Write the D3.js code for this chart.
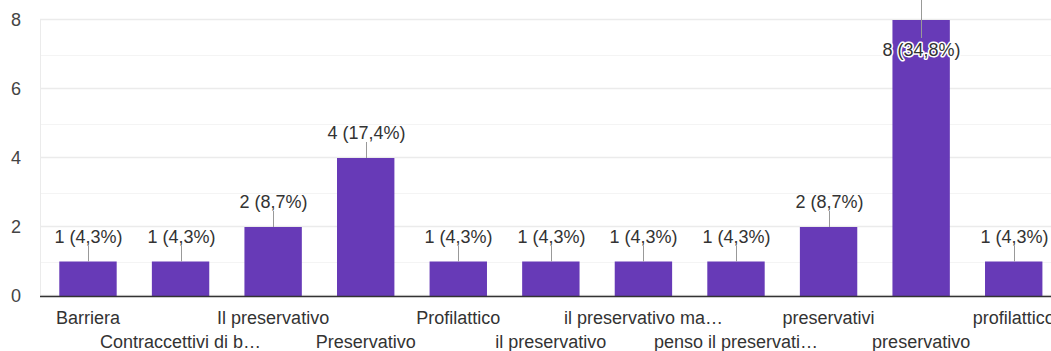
<!DOCTYPE html>
<html><head><meta charset="utf-8">
<script src="https://cdn.jsdelivr.net/npm/d3@7"></script>
<style>html,body{margin:0;padding:0;background:#fff;overflow:hidden}</style>
</head><body>
<svg id="c" width="1051" height="351"></svg>
<script>
const categories = ["Barriera","Contraccettivi di b…","Il preservativo","Preservativo","Profilattico","il preservativo","il preservativo ma…","penso il preservati…","preservativi","preservativo","profilattico"];
const values = [1,1,2,4,1,1,1,1,2,8,1];
const labels = ["1 (4,3%)","1 (4,3%)","2 (8,7%)","4 (17,4%)","1 (4,3%)","1 (4,3%)","1 (4,3%)","1 (4,3%)","2 (8,7%)","8 (34,8%)","1 (4,3%)"];
const yTicks = [0,2,4,6,8];
const yMinor = [1,3,5,7];

(function () {
const svg = d3.select("#c");
const font = "'Liberation Sans', Arial, sans-serif";
const left = 40, plotLeft = 41.7, plotRight = 1060, plotTop = 20, plotBottom = 296;
const x = d3.scaleBand().domain(categories).range([plotLeft, plotRight]).paddingInner(0.38).paddingOuter(0.19);
const y = d3.scaleLinear().domain([0, 8]).range([plotBottom, plotTop]);

// minor gridlines
svg.append("g").selectAll("line").data(yMinor).join("line")
  .attr("x1", left).attr("x2", 1051)
  .attr("y1", d => Math.round(y(d)) + 0.5).attr("y2", d => Math.round(y(d)) + 0.5)
  .attr("stroke", "#f4f4f4").attr("stroke-width", 1);
// major gridlines
svg.append("g").selectAll("line").data(yTicks).join("line")
  .attr("x1", left).attr("x2", 1051)
  .attr("y1", d => Math.round(y(d)) - 0.5).attr("y2", d => Math.round(y(d)) - 0.5)
  .attr("stroke", "#ebebeb").attr("stroke-width", 1.5);
// left vertical line
svg.append("line").attr("x1", left + 0.5).attr("x2", left + 0.5)
  .attr("y1", y(8) - 1).attr("y2", plotBottom).attr("stroke", "#ebebeb");

// y tick labels
svg.append("g").selectAll("text").data(yTicks).join("text")
  .attr("x", 21).attr("y", d => y(d) + 6)
  .attr("text-anchor", "end").attr("font-family", font).attr("font-size", 18)
  .attr("fill", "#444").text(d => d);

// bars
svg.append("g").selectAll("rect").data(values).join("rect")
  .attr("x", (d, i) => x(categories[i])).attr("width", x.bandwidth())
  .attr("y", d => y(d)).attr("height", d => y(0) - y(d))
  .attr("fill", "#673ab7");

// baseline
svg.append("line").attr("x1", left).attr("x2", 1051)
  .attr("y1", plotBottom + 0.5).attr("y2", plotBottom + 0.5)
  .attr("stroke", "#333").attr("stroke-width", 1.5);

const maxV = d3.max(values);
// annotations
const ann = svg.append("g");
values.forEach((v, i) => {
  const cx = Math.round(x(categories[i]) + x.bandwidth() / 2) + 0.5;
  if (v === maxV) {
    ann.append("line").attr("x1", cx).attr("x2", cx)
      .attr("y1", y(v) - 20).attr("y2", y(v) + 18)
      .attr("stroke", "#999").attr("stroke-width", 1);
    ann.append("text").attr("x", cx).attr("y", y(v) + 36)
      .attr("text-anchor", "middle").attr("font-family", font).attr("font-size", 18)
      .attr("fill", "#333").attr("stroke", "#fff").attr("stroke-width", 3)
      .attr("paint-order", "stroke").attr("stroke-linejoin", "round").text(labels[i]);
  } else {
    ann.append("line").attr("x1", cx).attr("x2", cx)
      .attr("y1", y(v)).attr("y2", y(v) - 16)
      .attr("stroke", "#999").attr("stroke-width", 1);
    ann.append("text").attr("x", cx).attr("y", y(v) - 19)
      .attr("text-anchor", "middle").attr("font-family", font).attr("font-size", 18)
      .attr("fill", "#333").text(labels[i]);
  }
});

// x labels, staggered
svg.append("g").selectAll("text").data(categories).join("text")
  .attr("x", d => x(d) + x.bandwidth() / 2)
  .attr("y", (d, i) => i % 2 === 0 ? 324 : 348)
  .attr("text-anchor", "middle").attr("font-family", font).attr("font-size", 18)
  .attr("fill", "#333").text(d => d);
})();
</script>
</body></html>
